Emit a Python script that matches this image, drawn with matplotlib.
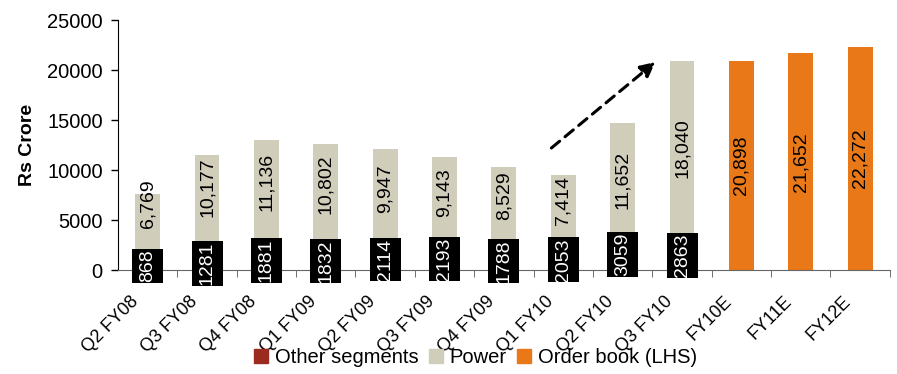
import matplotlib
matplotlib.use("Agg")
import matplotlib.pyplot as plt
import matplotlib.transforms as mtransforms
from matplotlib.patches import Patch
from matplotlib.path import Path
import numpy as np

categories = ["Q2 FY08", "Q3 FY08", "Q4 FY08", "Q1 FY09", "Q2 FY09", "Q3 FY09",
              "Q4 FY09", "Q1 FY10", "Q2 FY10", "Q3 FY10", "FY10E", "FY11E", "FY12E"]
other_segments = [868, 1281, 1881, 1832, 2114, 2193, 1788, 2053, 3059, 2863]
power = [6769, 10177, 11136, 10802, 9947, 9143, 8529, 7414, 11652, 18040]
order_book = [20898, 21652, 22272]

C_OTHER = "#9b2a1f"
C_POWER = "#d0cdbb"
C_ORDER = "#e87818"

plt.rcParams["font.family"] = ["Liberation Sans", "DejaVu Sans"]
FS = 14.5      # axis ticks and legend
FS_BAR = 14    # value labels
FS_X = 13      # category labels


def tight_box(x0, y0, width, height, mutation_size):
    """Rectangle with little padding along the text and more across it."""
    px = 0.03 * mutation_size
    py = 0.36 * mutation_size
    x0, x1 = x0 - px, x0 + width + px
    y0, y1 = y0 - py, y0 + height + py
    return Path([(x0, y0), (x1, y0), (x1, y1), (x0, y1), (x0, y0)],
                [Path.MOVETO, Path.LINETO, Path.LINETO, Path.LINETO, Path.CLOSEPOLY])


fig = plt.figure(figsize=(8.97, 3.74), dpi=100)
ax = fig.add_axes([0.1315, 0.278, 0.8605, 0.6685])

n_q = len(other_segments)
xq = np.arange(n_q)
xo = np.arange(n_q, n_q + len(order_book))
w = 0.42

ax.bar(xq, other_segments, width=w, color=C_OTHER, zorder=2)
ax.bar(xq, power, width=w, bottom=other_segments, color=C_POWER, zorder=2)
ax.bar(xo, order_book, width=w, color=C_ORDER, zorder=2)

# power labels sit on a common baseline above the small segment
label_base = 3200
for x, o, p in zip(xq, other_segments, power):
    ax.text(x, o / 2, f"{o}", rotation=90, ha="center", va="center",
            color="white", fontsize=FS_BAR, zorder=5,
            bbox=dict(boxstyle=tight_box, fc="black", ec="none"))
    ax.text(x, label_base + p / 2, f"{p:,}", rotation=90, ha="center", va="center",
            color="black", fontsize=FS_BAR, zorder=4)
for x, v in zip(xo, order_book):
    ax.text(x, v / 2, f"{v:,}", rotation=90, ha="center", va="center",
            color="black", fontsize=FS_BAR, zorder=4)

# dashed trend arrow
ax.annotate("", xy=(8.55, 20800), xytext=(6.8, 12200),
            arrowprops=dict(arrowstyle="-|>", color="black", lw=2.2,
                            linestyle=(0, (3.5, 2.3)), mutation_scale=22,
                            shrinkA=0, shrinkB=0))

ax.set_xlim(-0.5, len(categories) - 0.5)
ax.set_ylim(0, 25000)
ax.set_yticks(np.arange(0, 25001, 5000))
ax.tick_params(axis="y", labelsize=FS, length=5, width=1, direction="out", pad=6)

ax.set_xticks(np.arange(len(categories)))
ax.set_xticklabels(categories, rotation=45, ha="right", va="center",
                   rotation_mode="anchor", fontsize=FS_X)
ax.tick_params(axis="x", which="major", length=0, pad=0)
shift = mtransforms.ScaledTranslation(-0.12, -0.29, fig.dpi_scale_trans)
for lab in ax.get_xticklabels():
    lab.set_transform(lab.get_transform() + shift)
ax.set_xticks(np.arange(len(categories)) + 0.5, minor=True)
ax.tick_params(axis="x", which="minor", length=5, direction="out", color="#555555")

ax.set_ylabel("Rs Crore", fontsize=14, fontweight="bold", labelpad=8)

for s in ["top", "right"]:
    ax.spines[s].set_visible(False)
ax.spines["bottom"].set_color("#666666")

handles = [Patch(color=C_OTHER, label="Other segments"),
           Patch(color=C_POWER, label="Power"),
           Patch(color=C_ORDER, label="Order book (LHS)")]
fig.legend(handles=handles, loc="center", bbox_to_anchor=(0.53, 0.045), ncol=3,
           frameon=False, fontsize=FS, handlelength=0.7, handleheight=0.7,
           handletextpad=0.35, columnspacing=0.5, borderaxespad=0, borderpad=0)

fig.savefig("out.png", dpi=100)
